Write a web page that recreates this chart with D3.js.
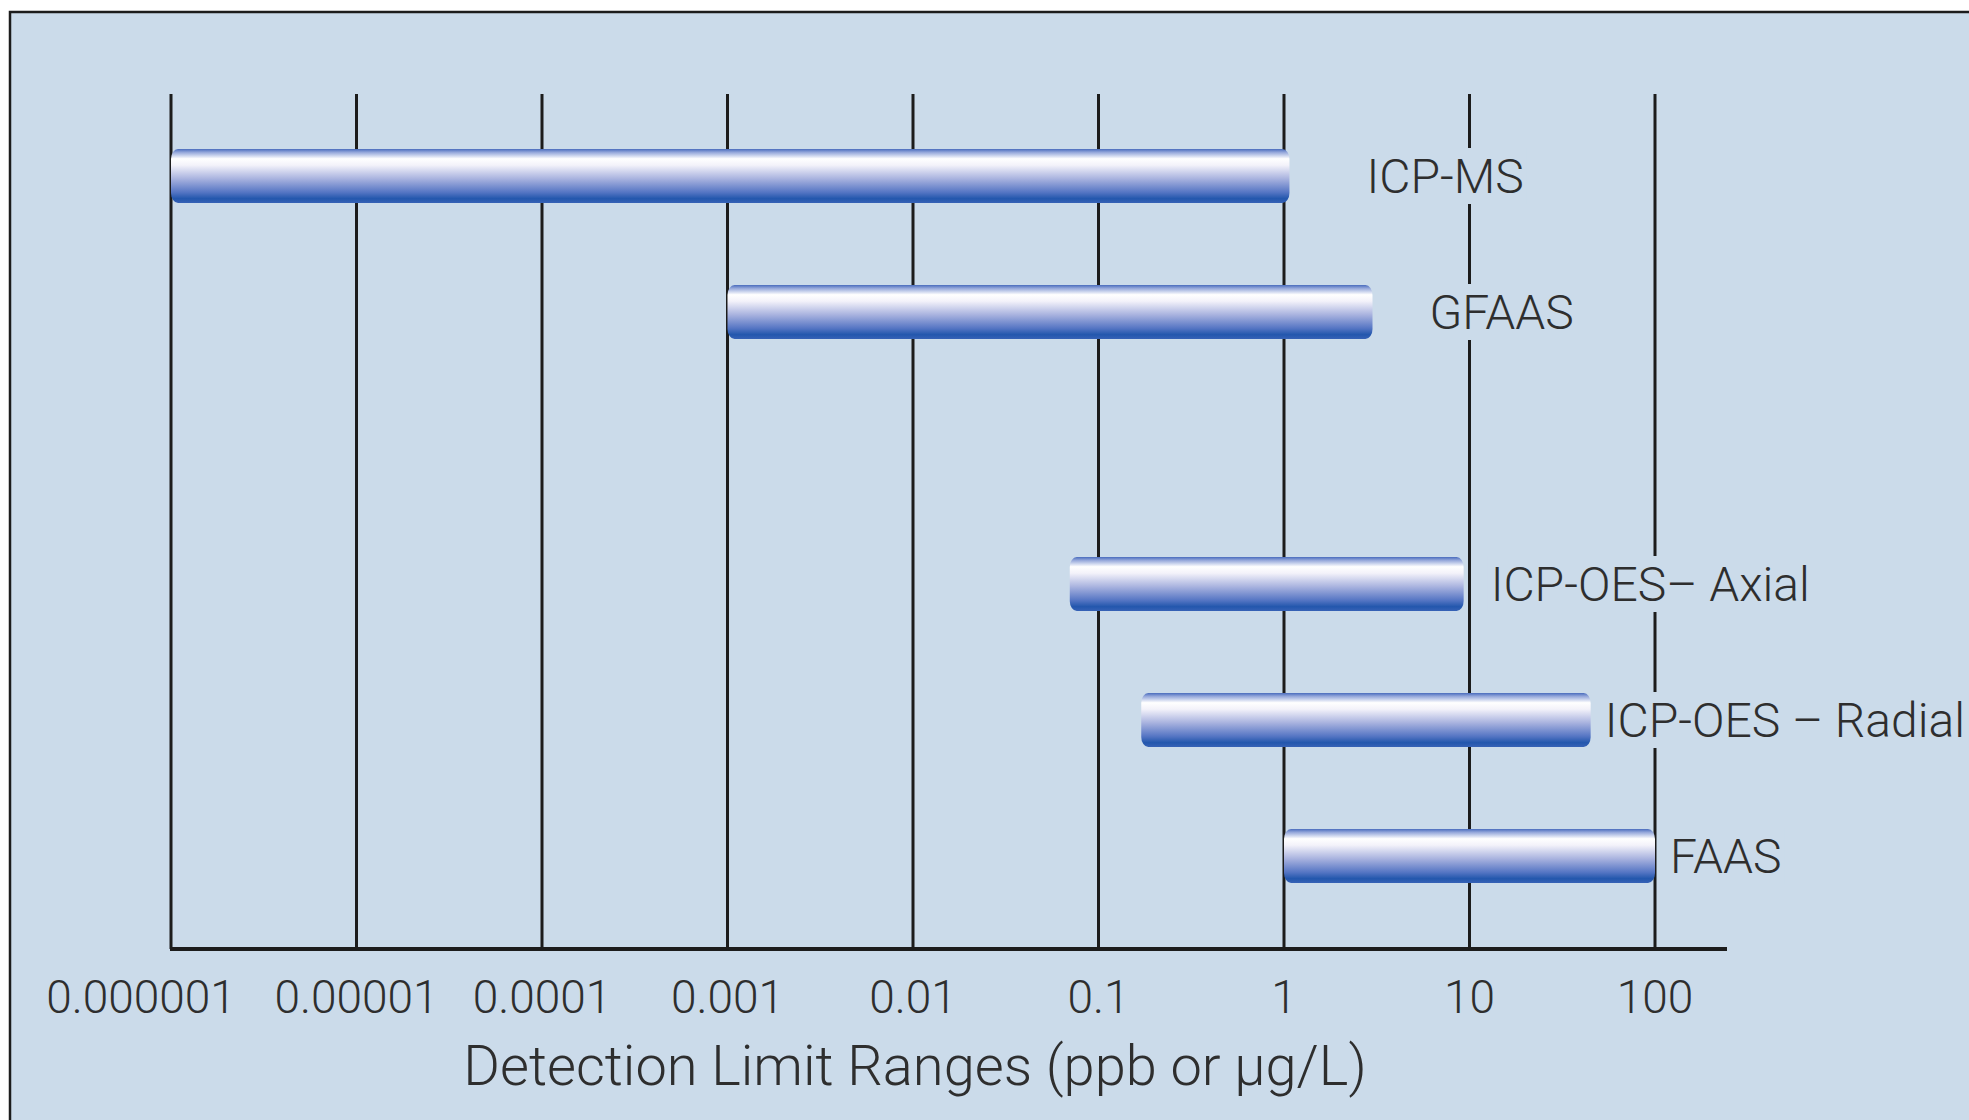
<!DOCTYPE html>
<html>
<head>
<meta charset="utf-8">
<script src="https://cdn.jsdelivr.net/npm/d3@7"></script>
<style>
  html, body { margin: 0; padding: 0; background: #ffffff; }
  svg { display: block; font-family: Roboto, "Noto Sans", sans-serif; font-weight: 300; }
</style>
</head>
<body>
<svg id="chart" width="1969" height="1120"></svg>
<script>
// data
const methods = ["ICP-MS", "GFAAS", "ICP-OES\u2013 Axial", "ICP-OES \u2013 Radial", "FAAS"];
const lowLimits = [0.000001, 0.001, 0.07, 0.17, 1];
const highLimits = [1.07, 3, 9.3, 45, 100];
const tickValues = [0.000001, 0.00001, 0.0001, 0.001, 0.01, 0.1, 1, 10, 100];
const tickLabels = ["0.000001", "0.00001", "0.0001", "0.001", "0.01", "0.1", "1", "10", "100"];
const axisTitle = "Detection Limit Ranges (ppb or \u00b5g/L)";

// rows, with an empty slot between GFAAS and the ICP-OES bars
const rows = [methods[0], methods[1], "", methods[2], methods[3], methods[4]];
const labelGap = [77, 57, 27, 14, 15];

const bars = methods.map((m, i) => ({ name: m, lo: lowLimits[i], hi: highLimits[i], gap: labelGap[i] }));

const svg = d3.select("#chart");
const bg = "#cbdbea";
const ink = "#1c1c1c";
const textInk = "#2e2e2e";

const x = d3.scaleLog()
    .domain([tickValues[0], tickValues[tickValues.length - 1]])
    .range([171, 1655]);

const y = d3.scalePoint()
    .domain(rows)
    .range([176, 856]);

const gridTop = 94;
const baseY = 949;
const barH = 54;

// frame
svg.append("rect")
    .attr("x", 10).attr("y", 12)
    .attr("width", 2000).attr("height", 1200)
    .attr("fill", bg)
    .attr("stroke", ink)
    .attr("stroke-width", 2.5);

// bar gradient
const grad = svg.append("defs").append("linearGradient")
    .attr("id", "tube")
    .attr("x1", 0).attr("y1", 0).attr("x2", 0).attr("y2", 1);
[
    [0, "#4a6cbd"], [0.06, "#93a6da"], [0.18, "#ffffff"], [0.3, "#f3f2fa"],
    [0.55, "#a9b3df"], [0.8, "#5676c4"], [0.92, "#2357ad"], [1, "#3762b6"]
].forEach(s => grad.append("stop").attr("offset", s[0]).attr("stop-color", s[1]));

// gridlines
svg.append("g")
    .selectAll("line")
    .data(tickValues)
    .enter().append("line")
    .attr("x1", d => x(d)).attr("x2", d => x(d))
    .attr("y1", gridTop).attr("y2", baseY)
    .attr("stroke", ink)
    .attr("stroke-width", 3);

// baseline
svg.append("line")
    .attr("x1", x(tickValues[0]) - 1).attr("x2", 1727)
    .attr("y1", baseY).attr("y2", baseY)
    .attr("stroke", ink)
    .attr("stroke-width", 4);

// bars
svg.append("g")
    .selectAll("rect")
    .data(bars)
    .enter().append("rect")
    .attr("x", d => x(d.lo))
    .attr("y", d => y(d.name) - barH / 2)
    .attr("width", d => x(d.hi) - x(d.lo))
    .attr("height", barH)
    .attr("rx", 7).attr("ry", 10)
    .attr("fill", "url(#tube)");

// method labels, each with a knock-out behind it
const label = svg.append("g")
    .selectAll("g")
    .data(bars)
    .enter().append("g");

label.append("rect").attr("class", "knock");

label.append("text")
    .attr("x", d => x(d.hi) + d.gap)
    .attr("y", d => y(d.name) + 17)
    .attr("font-size", 48)
    .attr("fill", textInk)
    .text(d => d.name);

label.each(function (d) {
    const g = d3.select(this);
    const w = g.select("text").node().getComputedTextLength();
    g.select("rect")
        .attr("x", x(d.hi) + d.gap - 3)
        .attr("y", y(d.name) - barH / 2 - 1)
        .attr("width", w + 6)
        .attr("height", barH + 2)
        .attr("fill", bg);
});

// tick labels
svg.append("g")
    .selectAll("text")
    .data(tickValues)
    .enter().append("text")
    .attr("x", (d, i) => x(d) - (i === 0 ? 30 : 0))
    .attr("y", 1013)
    .attr("text-anchor", "middle")
    .attr("font-size", 46)
    .attr("fill", textInk)
    .text((d, i) => tickLabels[i]);

// axis title
svg.append("text")
    .attr("x", (x.range()[0] + x.range()[1]) / 2 + 2)
    .attr("y", 1085)
    .attr("text-anchor", "middle")
    .attr("font-size", 56)
    .attr("fill", textInk)
    .text(axisTitle);
</script>
</body>
</html>
